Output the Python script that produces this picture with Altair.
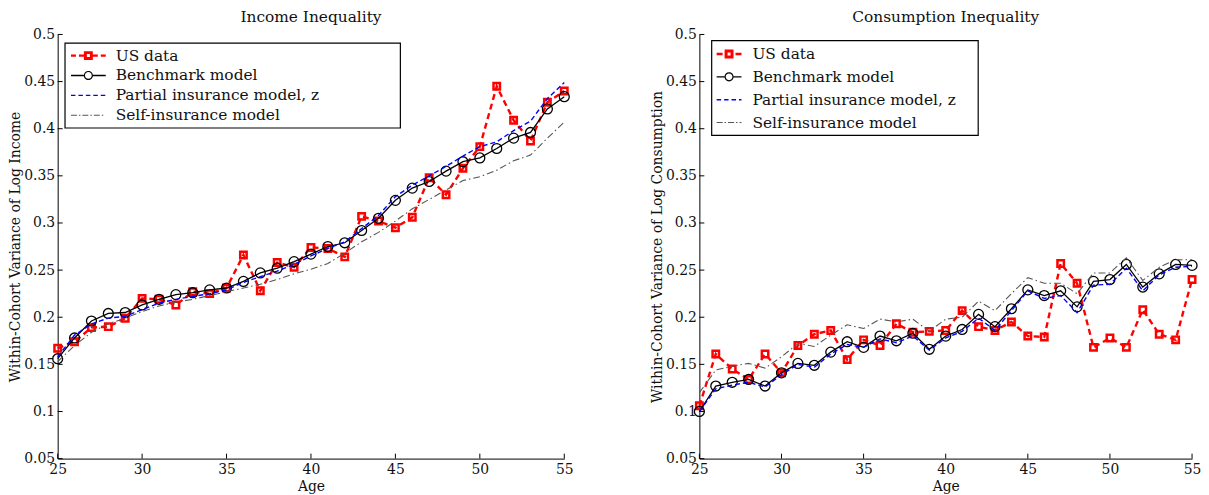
import altair as alt
import pandas as pd

# ---------------- data ----------------
ages = list(range(25, 56))
series_names = ["US data", "Benchmark model", "Partial insurance model, z", "Self-insurance model"]
series_colors = ["#ff0000", "#000000", "#0000ff", "#555555"]

inc_us = [0.167, 0.174, 0.189, 0.190, 0.199, 0.220, 0.219, 0.213, 0.227, 0.225, 0.231,
          0.266, 0.228, 0.258, 0.253, 0.274, 0.273, 0.264, 0.307, 0.302, 0.295, 0.306,
          0.348, 0.330, 0.358, 0.381, 0.445, 0.409, 0.387, 0.428, 0.440]
inc_bench = [0.156, 0.178, 0.196, 0.204, 0.205, 0.213, 0.219, 0.224, 0.226, 0.229, 0.231,
             0.238, 0.247, 0.252, 0.259, 0.267, 0.275, 0.279, 0.292, 0.305, 0.324, 0.337,
             0.344, 0.355, 0.365, 0.369, 0.379, 0.390, 0.396, 0.421, 0.434]
inc_partial = [0.158, 0.181, 0.193, 0.199, 0.201, 0.208, 0.215, 0.219, 0.222, 0.225, 0.229,
               0.237, 0.243, 0.249, 0.256, 0.265, 0.273, 0.280, 0.294, 0.308, 0.328, 0.340,
               0.350, 0.360, 0.371, 0.381, 0.386, 0.398, 0.408, 0.432, 0.449]
inc_self = [0.153, 0.170, 0.184, 0.193, 0.199, 0.206, 0.212, 0.216, 0.219, 0.223, 0.227,
            0.231, 0.235, 0.240, 0.246, 0.251, 0.257, 0.268, 0.280, 0.290, 0.302, 0.315,
            0.325, 0.335, 0.345, 0.349, 0.356, 0.366, 0.372, 0.390, 0.407]

con_us = [0.106, 0.161, 0.145, 0.134, 0.161, 0.141, 0.170, 0.182, 0.186, 0.155, 0.176,
          0.170, 0.193, 0.184, 0.185, 0.186, 0.207, 0.190, 0.186, 0.195, 0.180, 0.179,
          0.257, 0.236, 0.168, 0.178, 0.168, 0.208, 0.182, 0.176, 0.240]
con_bench = [0.100, 0.127, 0.131, 0.134, 0.127, 0.141, 0.151, 0.149, 0.163, 0.174, 0.168,
             0.180, 0.175, 0.183, 0.166, 0.180, 0.187, 0.203, 0.190, 0.209, 0.229, 0.223,
             0.228, 0.211, 0.238, 0.240, 0.256, 0.232, 0.246, 0.256, 0.255]
con_partial = [0.100, 0.124, 0.128, 0.131, 0.126, 0.139, 0.150, 0.147, 0.161, 0.171, 0.168,
               0.177, 0.173, 0.180, 0.165, 0.178, 0.185, 0.199, 0.186, 0.207, 0.228, 0.220,
               0.223, 0.205, 0.234, 0.235, 0.252, 0.228, 0.245, 0.253, 0.254]
con_self = [0.120, 0.144, 0.148, 0.151, 0.146, 0.158, 0.172, 0.169, 0.181, 0.192, 0.188,
            0.198, 0.195, 0.198, 0.185, 0.198, 0.200, 0.217, 0.207, 0.225, 0.242, 0.236,
            0.236, 0.225, 0.247, 0.247, 0.263, 0.239, 0.253, 0.261, 0.261]

x_ticks = [25, 30, 35, 40, 45, 50, 55]
y_ticks = [0.05, 0.1, 0.15, 0.2, 0.25, 0.3, 0.35, 0.4, 0.45, 0.5]

FONT = "DejaVu Serif"
TXT = "#111111"
UNIT = 8.0  # px per legend-path unit (symbol size = (2*UNIT)^2)


def long_df(vals):
    rows = []
    for name, v in zip(series_names, vals):
        for a, y in zip(ages, v):
            rows.append({"age": a, "series": name, "value": y})
    return pd.DataFrame(rows)


# ------------- legend glyphs (custom symbol paths) -------------
def ux(px):
    return round((px - UNIT) / UNIT, 4)


def uy(py):
    return round(py / UNIT, 4)


def rect(x0, x1, hh):
    return f"M{ux(x0)},{uy(-hh)}H{ux(x1)}V{uy(hh)}H{ux(x0)}Z"


def rect_ccw(x0, x1, hh):
    return f"M{ux(x0)},{uy(-hh)}V{uy(hh)}H{ux(x1)}V{uy(-hh)}Z"


def ring_square(cx, R, r):
    return rect(cx - R, cx + R, R) + rect_ccw(cx - r, cx + r, r)


def ring_circle(cx, R, r):
    a, b, c = ux(cx + R), ux(cx - R), uy(R)
    d, e, f = ux(cx + r), ux(cx - r), uy(r)
    return (f"M{a},0A{c},{c},0,1,1,{b},0A{c},{c},0,1,1,{a},0Z"
            f"M{d},0A{f},{f},0,1,0,{e},0A{f},{f},0,1,0,{d},0Z")


def legend_paths(w):
    c = w / 2.0
    if w >= 30:
        us = (rect(0, 5, 1.2) + rect(8, 13, 1.2) + ring_square(c, 4.5, 1.5)
              + rect(w - 13, w - 8, 1.2) + rect(w - 5, w, 1.2))
    else:
        us = rect(0, 6, 1.2) + ring_square(c, 4.5, 1.5) + rect(w - 6, w, 1.2)
    bench = rect(0, c - 4.6, 0.7) + ring_circle(c, 4.6, 3.4) + rect(c + 4.6, w, 0.7)
    part = ""
    x = 0.0
    while x < w - 1:
        part += rect(x, min(x + 4.5, w), 0.7)
        x += 7.5
    selfp = ""
    x = 0.0
    while x < w - 1:
        selfp += rect(x, min(x + 6, w), 0.5)
        if x + 8 < w:
            selfp += rect(x + 8, min(x + 9.5, w), 0.5)
        x += 11.5
    return [us, bench, part, selfp]


def panel(title, ytitle, vals, w, h, frame, leg_x, leg_y, sym_w, gap, row_pad):
    df = long_df(vals)
    xs = alt.Scale(domain=[25, 55], nice=False, zero=False)
    ys = alt.Scale(domain=[0.05, 0.5], nice=False, zero=False)
    X = alt.X("age:Q", scale=xs, axis=alt.Axis(values=x_ticks, title="Age"))
    Y = alt.Y("value:Q", scale=ys,
              axis=alt.Axis(values=y_ticks, format=".2~f", title=ytitle))
    base = alt.Chart(df)

    def sel(name):
        return base.transform_filter(alt.datum.series == name)

    us_line = sel(series_names[0]).mark_line(
        color=series_colors[0], strokeWidth=2.4, strokeDash=[6, 4]).encode(x=X, y=Y)
    us_pts = sel(series_names[0]).mark_point(
        shape="square", filled=False, color=series_colors[0], strokeWidth=2.5,
        size=42, opacity=1).encode(x=X, y=Y)
    b_line = sel(series_names[1]).mark_line(
        color=series_colors[1], strokeWidth=1.3).encode(x=X, y=Y)
    b_pts = sel(series_names[1]).mark_point(
        shape="circle", filled=False, color=series_colors[1], strokeWidth=1.3,
        size=100, opacity=1).encode(x=X, y=Y)
    p_line = sel(series_names[2]).mark_line(
        color=series_colors[2], strokeWidth=1.4, strokeDash=[5, 3]).encode(x=X, y=Y)
    s_line = sel(series_names[3]).mark_line(
        color=series_colors[3], strokeWidth=1.1, strokeDash=[7, 3, 1.5, 3]).encode(x=X, y=Y)

    # legend frame (decoration behind the legend entries)
    fx0, fx1, fy0, fy1 = frame
    box = alt.Chart(pd.DataFrame({"k": [0]})).mark_rect(
        fill="white", stroke="black", strokeWidth=1.2).encode(
        x=alt.value(fx0), x2=alt.value(fx1), y=alt.value(fy0), y2=alt.value(fy1))

    leg_common = dict(
        orient="none", legendX=leg_x, legendY=leg_y, padding=3,
        symbolStrokeWidth=0, symbolSize=(2 * UNIT) ** 2, symbolOffset=0,
        labelOffset=sym_w + gap - 2 * UNIT,
        rowPadding=row_pad, labelFont=FONT, labelFontSize=15.5, labelColor=TXT,
        labelLimit=600,
    )
    legend_layer = base.transform_filter("false").mark_point(
        filled=True, opacity=1, size=(2 * UNIT) ** 2, strokeWidth=0).encode(
        x=X, y=Y,
        fill=alt.Fill("series:N", title=None,
                      scale=alt.Scale(domain=series_names, range=series_colors),
                      legend=alt.Legend(**leg_common)),
        shape=alt.Shape("series:N", title=None,
                        scale=alt.Scale(domain=series_names, range=legend_paths(sym_w)),
                        legend=alt.Legend(**leg_common)),
    )

    xt = alt.Chart(pd.DataFrame({"age": x_ticks})).mark_rule(
        color="black", strokeWidth=1).encode(
        x=X, y=alt.value(h), y2=alt.value(h - 5))
    yt = alt.Chart(pd.DataFrame({"value": y_ticks})).mark_rule(
        color="black", strokeWidth=1).encode(
        y=Y, x=alt.value(0), x2=alt.value(5))

    return alt.layer(box, us_line, us_pts, b_line, b_pts, p_line, s_line,
                     legend_layer, xt, yt).properties(
        width=w, height=h,
        title=alt.Title(title, font=FONT, fontSize=15.5, fontWeight="normal",
                        color=TXT, offset=2, anchor="middle"),
    )


left = panel("Income Inequality", "Within-Cohort Variance of Log Income",
             [inc_us, inc_bench, inc_partial, inc_self],
             510, 427, (7.4, 345, 8.8, 94.2), 10.4, 10.3, 35, 10, 3)
right = panel("Consumption Inequality", "Within-Cohort Variance of Log Consumption",
              [con_us, con_bench, con_partial, con_self],
              496, 427, (12.4, 280.7, 6.3, 101.6), 14.4, 8.7, 25, 11, 6)

chart = alt.hconcat(left, right, spacing=77).resolve_scale(
    fill="independent", shape="independent"
).resolve_legend(fill="independent", shape="independent").properties(
    padding={"left": 0, "top": 0, "right": 0, "bottom": 0}
).configure_view(stroke=None).configure_axis(
    domainColor="black", domainWidth=1, ticks=False, tickSize=0, grid=False,
    labelFont=FONT, labelFontSize=14, labelColor=TXT, labelFlush=False,
    titleFont=FONT, titleFontSize=14, titleFontWeight="normal", titleColor=TXT,
).configure_axisX(labelPadding=4, titlePadding=3).configure_axisY(labelPadding=3, titlePadding=1)

chart.save("out.html", embed_options={"renderer": "svg", "actions": False})
